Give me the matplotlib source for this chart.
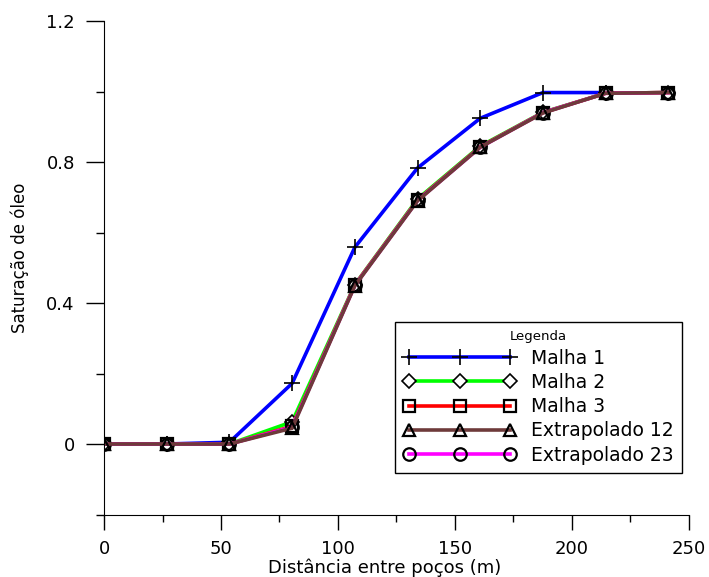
import matplotlib
matplotlib.use("Agg")
import matplotlib.pyplot as plt
from matplotlib.ticker import MultipleLocator

plt.rcParams['font.family'] = ['DejaVu Sans']

# distancia entre pocos (m)
x = [0, 26.8, 53.6, 80.4, 107.2, 134, 160.8, 187.6, 214.4, 241.2]

malha1 = [0, 0, 0.005, 0.172, 0.558, 0.783, 0.924, 0.997, 0.997]
malha2 = [0, 0, 0, 0.063, 0.452, 0.695, 0.845, 0.941, 0.995, 0.997]
malha3 = [0, 0, 0, 0.050, 0.451, 0.692, 0.843, 0.940, 0.995, 0.997]
extrap12 = [0, 0, 0, 0.045, 0.449, 0.690, 0.842, 0.939, 0.995, 0.997]
extrap23 = [0, 0, 0, 0.048, 0.450, 0.691, 0.842, 0.940, 0.995, 0.997]

names = ["Malha 1", "Malha 2", "Malha 3", "Extrapolado 12", "Extrapolado 23"]

fig = plt.figure(figsize=(7.09, 5.77), dpi=100)
ax = fig.add_axes([0.1467, 0.1083, 0.825, 0.8553])

lw = 2.6
ms = 9
h1, = ax.plot(x[:len(malha1)], malha1, color='#0000ff', lw=lw, marker='+', ms=ms + 3,
              mec='black', mew=1.2, label=names[0])
h2, = ax.plot(x, malha2, color='#00ff00', lw=lw, marker='D', ms=ms - 2,
              mec='black', mfc='white', mew=1.2, label=names[1])
h3, = ax.plot(x, malha3, color='#ff0000', lw=lw, marker='s', ms=ms,
              mec='black', mfc='none', mew=1.6, label=names[2])
h5, = ax.plot(x, extrap23, color='#ff00ff', lw=lw, marker='o', ms=ms,
              mec='black', mfc='none', mew=1.6, label=names[4])
h4, = ax.plot(x, extrap12, color='#6e3b3b', lw=lw, marker='^', ms=ms,
              mec='black', mfc='none', mew=1.6, label=names[3])

ax.set_xlim(0, 250)
ax.set_ylim(-0.2, 1.2)
ax.xaxis.set_major_locator(MultipleLocator(50))
ax.xaxis.set_minor_locator(MultipleLocator(25))
ax.yaxis.set_minor_locator(MultipleLocator(0.2))
ax.set_yticks([0, 0.4, 0.8, 1.2])
ax.set_yticklabels(["0", "0.4", "0.8", "1.2"])

for s in ['top', 'right']:
    ax.spines[s].set_visible(False)
ax.tick_params(axis='y', which='major', length=13, width=1, pad=8, labelsize=13)
ax.tick_params(axis='y', which='minor', length=6, width=1)
ax.tick_params(axis='x', which='major', length=11, width=1, pad=7, labelsize=13)
ax.tick_params(axis='x', which='minor', length=5, width=1)

ax.set_xlabel("Distância entre poços (m)", fontsize=13)
ax.set_ylabel("Saturação de óleo", fontsize=12)
ax.xaxis.label.set_va('baseline')
ax.xaxis.set_label_coords(0.48, -0.118)
ax.yaxis.set_label_coords(-0.128, 0.52)

leg = ax.legend([h1, h2, h3, h4, h5], names, title="Legenda", numpoints=3,
                handlelength=6, fontsize=13.5, title_fontsize=9.5,
                loc='upper left', bbox_to_anchor=(395 / 709, 1 - 322 / 577),
                bbox_transform=fig.transFigure, fancybox=False, framealpha=1,
                edgecolor='black', borderpad=0.45, labelspacing=0.28,
                handletextpad=0.8, borderaxespad=0)
leg.get_frame().set_linewidth(1)

fig.savefig("out.png", dpi=100)
